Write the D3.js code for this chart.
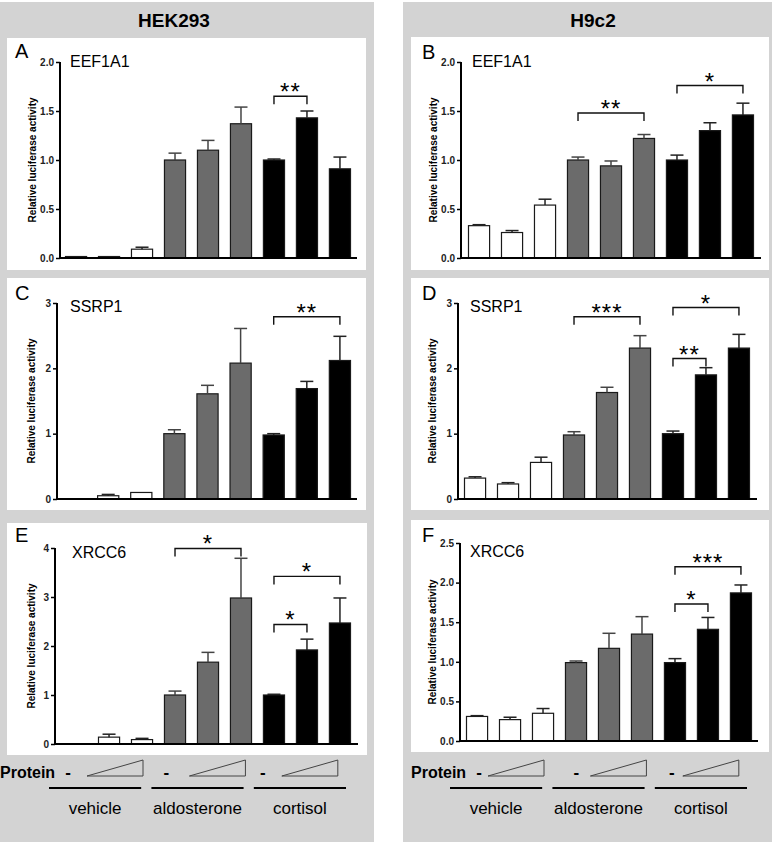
<!DOCTYPE html>
<html>
<head>
<meta charset="utf-8">
<script src="https://cdn.jsdelivr.net/npm/d3@7"></script>
<style>
  body { margin: 0; background: #fff; }
  svg { font-family: "Liberation Sans", Arial, sans-serif; display: block; }
</style>
</head>
<body>
<div id="chart"></div>
<script>
// nine conditions: vehicle / aldosterone / cortisol, each with no protein + two doses
var conditions = ["veh-", "veh+", "veh++", "aldo-", "aldo+", "aldo++", "cort-", "cort+", "cort++"];
var groups = ["vehicle", "aldosterone", "cortisol"];
var cellLines = ["HEK293", "H9c2"];

var hekEEF1A1 = [0.015, 0.015, 0.09, 1.0, 1.10, 1.37, 1.0, 1.43, 0.91];
var hekEEF1A1Err = [0, 0, 0.02, 0.07, 0.10, 0.17, 0.01, 0.07, 0.12];
var h9EEF1A1 = [0.33, 0.26, 0.54, 1.0, 0.94, 1.22, 1.0, 1.30, 1.46];
var h9EEF1A1Err = [0.01, 0.02, 0.06, 0.03, 0.05, 0.04, 0.05, 0.08, 0.12];
var hekSSRP1 = [0, 0.05, 0.10, 1.0, 1.61, 2.08, 0.98, 1.69, 2.12];
var hekSSRP1Err = [0, 0.02, 0, 0.06, 0.13, 0.53, 0.02, 0.11, 0.37];
var h9SSRP1 = [0.32, 0.23, 0.56, 0.98, 1.63, 2.31, 1.0, 1.90, 2.31];
var h9SSRP1Err = [0.02, 0.02, 0.08, 0.05, 0.08, 0.19, 0.04, 0.11, 0.21];
var hekXRCC6 = [0, 0.14, 0.09, 1.0, 1.67, 2.98, 1.0, 1.92, 2.47];
var hekXRCC6Err = [0, 0.06, 0.025, 0.08, 0.20, 0.81, 0.015, 0.22, 0.51];
var h9XRCC6 = [0.31, 0.27, 0.35, 0.99, 1.17, 1.35, 0.99, 1.41, 1.87];
var h9XRCC6Err = [0.01, 0.03, 0.06, 0.02, 0.19, 0.22, 0.05, 0.15, 0.10];

// significance brackets: [from bar, to bar, height, stars]
var hekEEF1A1Sig = [[6, 7, 1.65, "**"]];
var h9EEF1A1Sig = [[3, 5, 1.48, "**"], [6, 8, 1.76, "*"]];
var hekSSRP1Sig = [[6, 8, 2.79, "**"]];
var h9SSRP1Sig = [[3, 5, 2.79, "***"], [6, 8, 2.93, "*"], [6, 7, 2.15, "**"]];
var hekXRCC6Sig = [[3, 5, 3.99, "*"], [6, 8, 3.42, "*"], [6, 7, 2.44, "*"]];
var h9XRCC6Sig = [[6, 8, 2.20, "***"], [6, 7, 1.73, "*"]];

var ticks2 = [0, 0.5, 1, 1.5, 2];
var ticks3 = [0, 1, 2, 3];
var ticks4 = [0, 1, 2, 3, 4];
var ticks25 = [0, 0.5, 1, 1.5, 2, 2.5];

var fills = ["#fff", "#fff", "#fff", "#6b6b6b", "#6b6b6b", "#6b6b6b", "#000", "#000", "#000"];

var panels = [
  {letter: "A", gene: "EEF1A1", vals: hekEEF1A1, errs: hekEEF1A1Err, sig: hekEEF1A1Sig, max: 2, ticks: ticks2, fmt: ".1f",
   box: [7, 38, 366, 270], axisX: 60, axisEnd: 357, y0: 258, yTop: 62, bars: [65, 351], labX: 32, letterY: 58, geneX: 70, geneY: 67},
  {letter: "B", gene: "EEF1A1", vals: h9EEF1A1, errs: h9EEF1A1Err, sig: h9EEF1A1Sig, max: 2, ticks: ticks2, fmt: ".1f",
   box: [411, 37, 769, 270], axisX: 461, axisEnd: 761, y0: 258, yTop: 62, bars: [468, 754], labX: 433, letterY: 59, geneX: 472, geneY: 67},
  {letter: "C", gene: "SSRP1", vals: hekSSRP1, errs: hekSSRP1Err, sig: hekSSRP1Sig, max: 3, ticks: ticks3, fmt: "d",
   box: [7, 278, 366, 510], axisX: 57, axisEnd: 357, y0: 499, yTop: 303, bars: [64, 351], labX: 31, letterY: 300, geneX: 70, geneY: 312},
  {letter: "D", gene: "SSRP1", vals: h9SSRP1, errs: h9SSRP1Err, sig: h9SSRP1Sig, max: 3, ticks: ticks3, fmt: "d",
   box: [411, 278, 769, 510], axisX: 458, axisEnd: 757, y0: 499, yTop: 303, bars: [464, 750], labX: 432, letterY: 300, geneX: 470, geneY: 312},
  {letter: "E", gene: "XRCC6", vals: hekXRCC6, errs: hekXRCC6Err, sig: hekXRCC6Sig, max: 4, ticks: ticks4, fmt: "d",
   box: [7, 523, 367, 755], axisX: 55, axisEnd: 358, y0: 744, yTop: 548, bars: [65, 351], labX: 31, letterY: 542, geneX: 72, geneY: 558},
  {letter: "F", gene: "XRCC6", vals: h9XRCC6, errs: h9XRCC6Err, sig: h9XRCC6Sig, max: 2.5, ticks: ticks25, fmt: ".1f",
   box: [411, 520, 769, 752], axisX: 460, axisEnd: 758, y0: 741, yTop: 543, bars: [466, 752], labX: 432, letterY: 542, geneX: 470, geneY: 557}
];

var svg = d3.select("#chart").append("svg")
    .attr("width", 777)
    .attr("height", 844);

// grey column backgrounds
var cols = [[0, 374], [403, 772]];
svg.selectAll(".col")
    .data(cols)
    .enter()
    .append("rect")
    .attr("x", function(d) { return d[0]; })
    .attr("y", 2)
    .attr("width", function(d) { return d[1] - d[0]; })
    .attr("height", 840)
    .attr("fill", "#d3d3d3");

svg.selectAll(".cellLine")
    .data(cellLines)
    .enter()
    .append("text")
    .attr("x", function(d, i) { return i == 0 ? 174 : 593; })
    .attr("y", 27)
    .attr("text-anchor", "middle")
    .style("font-weight", "bold")
    .style("font-size", "19px")
    .text(function(d) { return d; });

panels.forEach(function(p) {
    var g = svg.append("g");

    g.append("rect")
        .attr("x", p.box[0]).attr("y", p.box[1])
        .attr("width", p.box[2] - p.box[0]).attr("height", p.box[3] - p.box[1])
        .attr("fill", "#fff");

    var x = d3.scaleBand()
        .domain(conditions)
        .range(p.bars)
        .paddingInner(0.33)
        .paddingOuter(0);

    var y = d3.scaleLinear()
        .domain([0, p.max])
        .range([p.y0, p.yTop]);

    //bars
    g.selectAll(".bar")
        .data(p.vals)
        .enter()
        .append("rect")
        .attr("x", function(d, i) { return x(conditions[i]) + 0.5; })
        .attr("y", function(d) { return y(d); })
        .attr("width", x.bandwidth() - 1)
        .attr("height", function(d) { return p.y0 - y(d); })
        .attr("fill", function(d, i) { return fills[i]; })
        .attr("stroke", "#1a1a1a")
        .attr("stroke-width", 1.2);

    //error bars, upper only
    p.vals.forEach(function(v, i) {
        if (!p.errs[i] || v == 0) return;
        var cx = x(conditions[i]) + x.bandwidth() / 2;
        var col = i >= 3 && i < 6 ? "#444" : "#222";
        g.append("line")
            .attr("x1", cx).attr("x2", cx)
            .attr("y1", y(v)).attr("y2", y(v + p.errs[i]))
            .attr("stroke", col).attr("stroke-width", 1.5);
        g.append("line")
            .attr("x1", cx - 6.5).attr("x2", cx + 6.5)
            .attr("y1", y(v + p.errs[i])).attr("y2", y(v + p.errs[i]))
            .attr("stroke", col).attr("stroke-width", 1.5);
    });

    //axes
    var yAxis = d3.axisLeft(y)
        .tickValues(p.ticks)
        .tickFormat(d3.format(p.fmt))
        .tickSize(4)
        .tickPadding(2);

    var ag = g.append("g")
        .attr("transform", "translate(" + p.axisX + ",0)")
        .call(yAxis);
    ag.select(".domain").remove();
    ag.selectAll("line").attr("stroke", "#000").attr("stroke-width", 1.5);
    ag.selectAll("text")
        .style("font-size", "10px")
        .style("font-weight", "bold")
        .attr("fill", "#222");

    g.append("line")
        .attr("x1", p.axisX).attr("x2", p.axisX)
        .attr("y1", p.yTop).attr("y2", p.y0)
        .attr("stroke", "#000").attr("stroke-width", 2);
    g.append("line")
        .attr("x1", p.axisX).attr("x2", p.axisEnd)
        .attr("y1", p.y0).attr("y2", p.y0)
        .attr("stroke", "#000").attr("stroke-width", 2);

    g.append("text")
        .attr("transform", "translate(" + p.labX + "," + ((p.y0 + p.yTop) / 2) + ") rotate(-90)")
        .attr("text-anchor", "middle")
        .attr("dy", "0.35em")
        .style("font-weight", "bold")
        .style("font-size", "10px")
        .text("Relative luciferase activity");

    g.append("text")
        .attr("x", p.box[0] + 8 + (p.box[0] > 100 ? 3 : 0))
        .attr("y", p.letterY)
        .style("font-size", "20px")
        .text(p.letter);

    g.append("text")
        .attr("x", p.geneX)
        .attr("y", p.geneY)
        .style("font-size", "16px")
        .text(p.gene);

    //significance brackets
    p.sig.forEach(function(s) {
        var x1 = x(conditions[s[0]]) + x.bandwidth() / 2;
        var x2 = x(conditions[s[1]]) + x.bandwidth() / 2;
        var yy = y(s[2]);
        g.append("path")
            .attr("d", "M" + x1 + "," + (yy + 8) + "V" + yy + "H" + x2 + "V" + (yy + 8))
            .attr("fill", "none")
            .attr("stroke", "#111")
            .attr("stroke-width", 1.4);
        g.append("text")
            .attr("x", (x1 + x2) / 2)
            .attr("y", yy + 4)
            .attr("text-anchor", "middle")
            .style("font-size", "24px")
            .style("letter-spacing", "1px")
            .text(s[3]);
    });
});

// protein dose row and treatment groups under the bottom panels
var bottoms = [
  {range: [49, 346], textX: 0, dash: [19, 15, 9], tri: [94, 94, 84]},
  {range: [450, 747], textX: 411, dash: [29, 24, 17], tri: [94, 94, 84]}
];
bottoms.forEach(function(b) {
    var gx = d3.scaleBand()
        .domain(groups)
        .range(b.range)
        .paddingInner(0.1)
        .paddingOuter(0);

    svg.append("text")
        .attr("x", b.textX)
        .attr("y", 778)
        .style("font-weight", "bold")
        .style("font-size", "16px")
        .text("Protein");

    groups.forEach(function(grp, i) {
        var right = gx(grp) + b.tri[i];
        var left = right - 56;
        svg.append("path")
            .attr("d", "M" + left + ",776L" + right + ",760V776Z")
            .attr("fill", "none")
            .attr("stroke", "#444")
            .attr("stroke-width", 1);
        svg.append("text")
            .attr("x", gx(grp) + b.dash[i])
            .attr("y", 778)
            .attr("text-anchor", "middle")
            .style("font-weight", "bold")
            .style("font-size", "17px")
            .text("-");
        svg.append("line")
            .attr("x1", gx(grp)).attr("x2", gx(grp) + gx.bandwidth())
            .attr("y1", 788).attr("y2", 788)
            .attr("stroke", "#000").attr("stroke-width", 2);
        svg.append("text")
            .attr("x", gx(grp) + gx.bandwidth() / 2)
            .attr("y", 814)
            .attr("text-anchor", "middle")
            .style("font-size", "17px")
            .text(grp);
    });
});
</script>
</body>
</html>
